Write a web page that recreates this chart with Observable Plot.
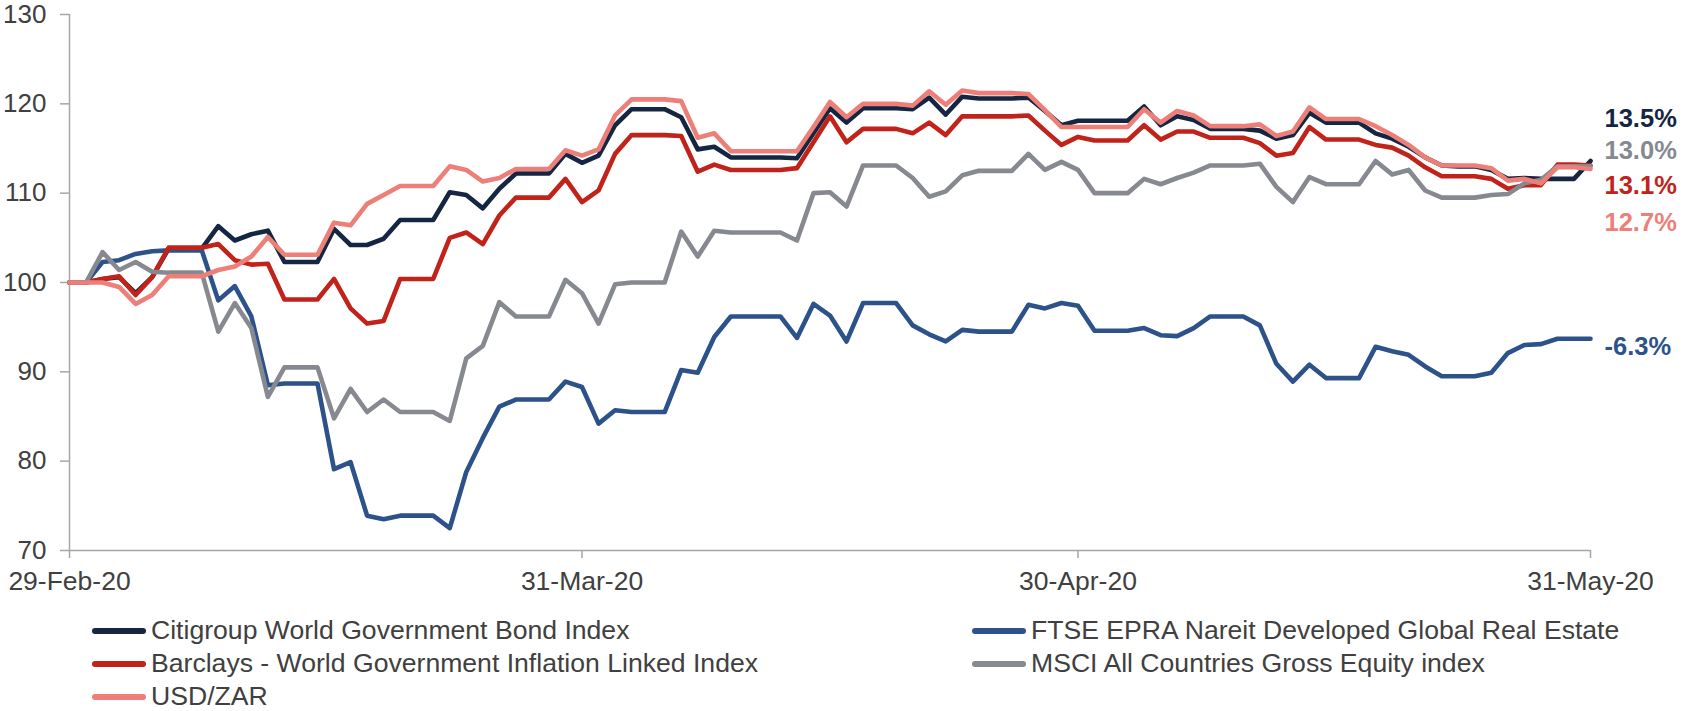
<!DOCTYPE html>
<html>
<head>
<meta charset="utf-8">
<script src="https://cdn.jsdelivr.net/npm/d3@7"></script>
<script src="https://cdn.jsdelivr.net/npm/@observablehq/plot@0.6"></script>
<style>
  html, body { margin: 0; padding: 0; background: #fff; }
  #wrap { position: relative; width: 1684px; height: 711px; font-family: "Liberation Sans", Arial, sans-serif; }
  #legend { position: absolute; left: 92px; top: 614px; display: grid; grid-template-columns: 880px auto; grid-auto-rows: 33px; color: #404040; font-size: 26.6px; }
  .item { display: flex; align-items: center; white-space: nowrap; }
  .sw { width: 54px; height: 6px; border-radius: 3px; margin-right: 5px; }
</style>
</head>
<body>
<div id="wrap"><div id="chart"></div><div id="legend"></div></div>
<script>
// ---- data ----
const startDate = new Date(Date.UTC(2020, 1, 29));
const endDate = new Date(Date.UTC(2020, 4, 31));
const dates = d3.utcDay.range(startDate, d3.utcDay.offset(endDate, 1)); // 29-Feb-20 .. 31-May-20 (daily)

const seriesNames = [
  "Citigroup World Government Bond Index",
  "FTSE EPRA Nareit Developed Global Real Estate",
  "Barclays - World Government Inflation Linked Index",
  "MSCI All Countries Gross Equity index",
  "USD/ZAR"
];
const seriesColors = ["#152642", "#2c5289", "#c1231b", "#878990", "#ee7f78"];

const citigroup = [100,100,100.4,100.6,98.8,100.6,103.8,103.8,103.8,106.3,104.7,105.4,105.8,102.3,102.3,102.3,106.0,104.2,104.2,104.9,107.0,107.0,107.0,110.1,109.8,108.3,110.5,112.2,112.2,112.2,114.4,113.4,114.2,117.6,119.4,119.4,119.4,118.5,114.9,115.2,114.0,114.0,114.0,114.0,113.9,116.7,119.5,117.9,119.5,119.5,119.5,119.4,120.7,118.8,120.8,120.6,120.6,120.6,120.7,119.2,117.6,118.1,118.1,118.1,118.1,119.7,117.6,118.6,118.2,117.2,117.2,117.2,117.0,116.1,116.5,119.0,117.9,117.9,117.9,116.7,116.1,115.2,114.0,113.1,113.0,113.0,112.6,111.6,111.7,111.6,111.6,111.6,113.6];
const ftse = [100,100,102.3,102.5,103.2,103.5,103.6,103.6,103.6,98.0,99.6,96.2,88.5,88.7,88.7,88.7,79.1,79.9,73.9,73.5,73.9,73.9,73.9,72.5,78.8,82.6,86.1,86.9,86.9,86.9,88.9,88.3,84.2,85.7,85.5,85.5,85.5,90.2,89.9,93.9,96.2,96.2,96.2,96.2,93.8,97.6,96.3,93.4,97.7,97.7,97.7,95.2,94.2,93.4,94.7,94.5,94.5,94.5,97.5,97.1,97.7,97.4,94.6,94.6,94.6,94.9,94.1,94.0,94.9,96.2,96.2,96.2,95.2,90.9,88.9,90.8,89.3,89.3,89.3,92.8,92.3,91.9,90.6,89.5,89.5,89.5,89.9,92.1,93.0,93.1,93.7,93.7,93.7];
const barclays = [100,100,100.4,100.7,98.6,100.6,103.9,103.9,103.9,104.3,102.5,102.0,102.1,98.1,98.1,98.1,100.4,97.1,95.4,95.7,100.4,100.4,100.4,105.0,105.6,104.3,107.5,109.5,109.5,109.5,111.6,109.0,110.3,114.4,116.5,116.5,116.5,116.4,112.4,113.2,112.6,112.6,112.6,112.6,112.8,115.7,118.6,115.7,117.2,117.2,117.2,116.7,117.9,116.5,118.6,118.6,118.6,118.6,118.7,117.0,115.4,116.3,115.9,115.9,115.9,117.6,116.0,116.9,116.9,116.2,116.2,116.2,115.6,114.2,114.5,117.4,116.0,116.0,116.0,115.4,115.1,114.2,112.9,111.9,111.9,111.9,111.6,110.5,110.9,110.9,113.2,113.2,113.1];
const msci = [100,100,103.4,101.4,102.3,101.2,101.1,101.1,101.1,94.5,97.7,94.9,87.2,90.5,90.5,90.5,84.8,88.1,85.5,86.9,85.5,85.5,85.5,84.5,91.5,92.9,97.8,96.2,96.2,96.2,100.3,98.8,95.4,99.8,100.0,100.0,100.0,105.7,102.9,105.8,105.6,105.6,105.6,105.6,104.7,110.0,110.1,108.5,113.1,113.1,113.1,111.7,109.6,110.2,112.0,112.5,112.5,112.5,114.4,112.6,113.5,112.6,110.0,110.0,110.0,111.6,111.0,111.7,112.3,113.1,113.1,113.1,113.3,110.7,109.0,111.8,111.0,111.0,111.0,113.6,112.1,112.6,110.3,109.5,109.5,109.5,109.8,109.9,111.1,111.5,113.0,113.0,113.0];
const usdzar = [100,100,100,99.5,97.6,98.6,100.7,100.7,100.7,101.4,101.8,102.9,105.1,103.1,103.1,103.1,106.7,106.4,108.8,109.8,110.8,110.8,110.8,113.0,112.6,111.3,111.7,112.7,112.7,112.7,114.8,114.2,114.9,118.7,120.5,120.5,120.5,120.3,116.2,116.7,114.7,114.7,114.7,114.7,114.7,117.4,120.2,118.5,120.0,120.0,120.0,119.8,121.4,119.9,121.5,121.2,121.2,121.2,121.1,119.3,117.4,117.4,117.4,117.4,117.4,119.4,117.9,119.2,118.7,117.5,117.5,117.5,117.7,116.4,116.9,119.6,118.3,118.3,118.3,117.5,116.5,115.4,114.0,113.1,113.1,113.1,112.8,111.4,111.6,111.1,112.9,112.9,112.7];

const seriesValues = [citigroup, ftse, barclays, msci, usdzar];

// end-of-period returns shown at right
const endLabels = ["13.5%", "-6.3%", "13.1%", "13.0%", "12.7%"];
const endLabelAt = [118.3, 92.8, 110.8, 114.7, 106.7]; // vertical anchor (index units) of each label

const xTicks = [new Date(Date.UTC(2020,1,29)), new Date(Date.UTC(2020,2,31)), new Date(Date.UTC(2020,3,30)), new Date(Date.UTC(2020,4,31))];
const yTicks = [70, 80, 90, 100, 110, 120, 130];

// ---- build ----
const tables = seriesValues.map((vals, i) => vals.map((v, j) => ({date: dates[j], value: v, series: seriesNames[i]})));
const labelRows = endLabels.map((t, i) => ({date: endDate, y: endLabelAt[i], text: t, color: seriesColors[i]}));

const axisColor = "#a6a6a6";
const textColor = "#404040";

const chart = Plot.plot({
  width: 1684,
  height: 600,
  marginLeft: 69,
  marginRight: 94,
  marginTop: 14,
  marginBottom: 50,
  style: {fontFamily: '"Liberation Sans", Arial, sans-serif', overflow: "visible", background: "white"},
  x: {type: "utc", domain: [startDate, endDate]},
  y: {domain: [70, 130]},
  marks: [
    Plot.ruleY([70], {stroke: axisColor, strokeWidth: 1.5}),
    Plot.ruleX([startDate], {y1: 70, y2: 130, stroke: axisColor, strokeWidth: 1.5}),
    Plot.axisX({ticks: xTicks, tickFormat: d3.utcFormat("%d-%b-%y"), tickSize: 8, tickPadding: 13, stroke: axisColor, strokeWidth: 1.5, fill: textColor, fontSize: 26.5, label: null}),
    Plot.axisY({ticks: yTicks, tickSize: 9, tickPadding: 14, stroke: axisColor, strokeWidth: 1.5, fill: textColor, fontSize: 26, label: null}),
    ...tables.map((t, i) => Plot.lineY(t, {x: "date", y: "value", stroke: seriesColors[i], strokeWidth: 4.6, strokeLinejoin: "round", strokeLinecap: "round"})),
    Plot.text(labelRows, {x: "date", y: "y", text: "text", fill: "color", dx: 14, textAnchor: "start", fontWeight: "bold", fontSize: 25.5})
  ]
});
document.getElementById("chart").appendChild(chart);

// legend (row-major, two columns)
const legend = d3.select("#legend");
seriesNames.forEach((name, i) => {
  const it = legend.append("div").attr("class", "item");
  it.append("div").attr("class", "sw").style("background", seriesColors[i]);
  it.append("span").text(name);
});
</script>
</body>
</html>
